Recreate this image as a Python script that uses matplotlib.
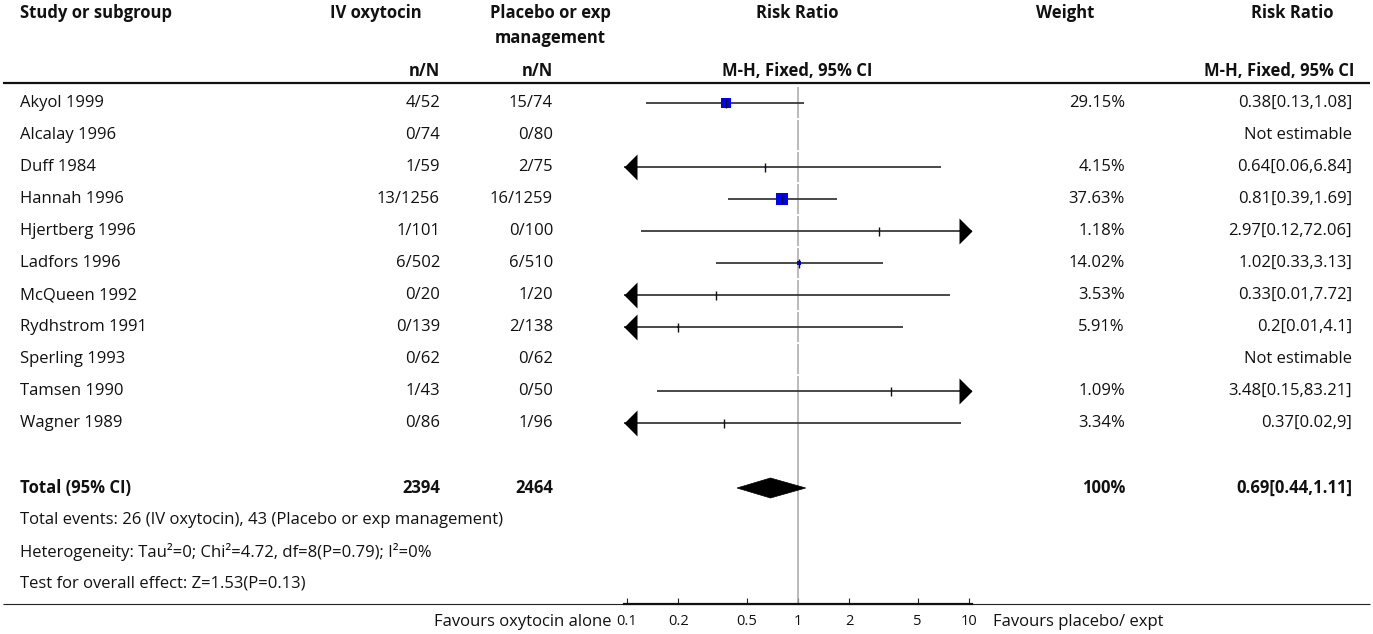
import matplotlib
matplotlib.use("Agg")
import matplotlib.pyplot as plt
from matplotlib.patches import Polygon
from matplotlib.path import Path
from matplotlib.ticker import FixedLocator, FixedFormatter, NullLocator

# ---------------- data ----------------
studies = ["Akyol 1999", "Alcalay 1996", "Duff 1984", "Hannah 1996", "Hjertberg 1996",
           "Ladfors 1996", "McQueen 1992", "Rydhstrom 1991", "Sperling 1993",
           "Tamsen 1990", "Wagner 1989"]
iv_events = [4, 0, 1, 13, 1, 6, 0, 0, 0, 1, 0]
iv_total = [52, 74, 59, 1256, 101, 502, 20, 139, 62, 43, 86]
pl_events = [15, 0, 2, 16, 0, 6, 1, 2, 0, 0, 1]
pl_total = [74, 80, 75, 1259, 100, 510, 20, 138, 62, 50, 96]
weights = [29.15, None, 4.15, 37.63, 1.18, 14.02, 3.53, 5.91, None, 1.09, 3.34]
rr = [0.38, None, 0.64, 0.81, 2.97, 1.02, 0.33, 0.2, None, 3.48, 0.37]
ci_lo = [0.13, None, 0.06, 0.39, 0.12, 0.33, 0.01, 0.01, None, 0.15, 0.02]
ci_hi = [1.08, None, 6.84, 1.69, 72.06, 3.13, 7.72, 4.1, None, 83.21, 9]

total_iv = 2394
total_pl = 2464
total_rr, total_lo, total_hi = 0.69, 0.44, 1.11
total_weight = "100%"
footer_lines = [
    "Total events: 26 (IV oxytocin), 43 (Placebo or exp management)",
    "Heterogeneity: Tau\u00b2=0; Chi\u00b2=4.72, df=8(P=0.79); I\u00b2=0%",
    "Test for overall effect: Z=1.53(P=0.13)",
]
tick_values = [0.1, 0.2, 0.5, 1, 2, 5, 10]
tick_labels = ["0.1", "0.2", "0.5", "1", "2", "5", "10"]
favours_left = "Favours oxytocin alone"
favours_right = "Favours placebo/ expt"

# ---------------- layout ----------------
W, H = 1373, 634
plt.rcParams["font.family"] = ["Open Sans", "DejaVu Sans"]
FS = 12.0
TXT = "#111111"

fig = plt.figure(figsize=(W / 100, H / 100), dpi=100)
bg = fig.add_axes([0, 0, 1, 1])
bg.set_xlim(0, W)
bg.set_ylim(H, 0)
bg.axis("off")

x_name = 20
x_iv = 440
x_pl = 553
x_w = 1125
x_rr = 1352
row0, row_step = 103, 32
y_total = 488
y_foot0 = 520
y_axis = 604

# header
hdr = dict(fontsize=FS, fontweight="bold", color=TXT, va="center")
bg.text(x_name, 13, "Study or subgroup", ha="left", **hdr)
bg.text(376, 13, "IV oxytocin", ha="center", **hdr)
bg.text(550, 13, "Placebo or exp", ha="center", **hdr)
bg.text(550, 38, "management", ha="center", **hdr)
bg.text(797, 13, "Risk Ratio", ha="center", **hdr)
bg.text(1065, 13, "Weight", ha="center", **hdr)
bg.text(1292, 13, "Risk Ratio", ha="center", **hdr)
bg.text(x_iv, 71, "n/N", ha="right", **hdr)
bg.text(x_pl, 71, "n/N", ha="right", **hdr)
bg.text(797, 71, "M-H, Fixed, 95% CI", ha="center", **hdr)
bg.text(1354, 71, "M-H, Fixed, 95% CI", ha="right", **hdr)
bg.plot([3, 1370], [83, 83], color="#111111", lw=1.6, solid_capstyle="butt")

# rows
reg = dict(fontsize=FS, color=TXT, va="center")
for i, name in enumerate(studies):
    y = row0 + row_step * i
    bg.text(x_name, y, name, ha="left", **reg)
    bg.text(x_iv, y, f"{iv_events[i]}/{iv_total[i]}", ha="right", **reg)
    bg.text(x_pl, y, f"{pl_events[i]}/{pl_total[i]}", ha="right", **reg)
    if rr[i] is None:
        bg.text(x_rr, y, "Not estimable", ha="right", **reg)
    else:
        bg.text(x_w, y, f"{weights[i]:.2f}%", ha="right", **reg)
        bg.text(x_rr, y, f"{rr[i]:g}[{ci_lo[i]:g},{ci_hi[i]:g}]", ha="right", **reg)

bold = dict(fontsize=FS, fontweight="bold", color=TXT, va="center")
bg.text(x_name, y_total, "Total (95% CI)", ha="left", **bold)
bg.text(x_iv, y_total, f"{total_iv}", ha="right", **bold)
bg.text(x_pl, y_total, f"{total_pl}", ha="right", **bold)
bg.text(x_w, y_total, total_weight, ha="right", **bold)
bg.text(x_rr, y_total, f"{total_rr:g}[{total_lo:g},{total_hi:g}]", ha="right", **bold)
for k, line in enumerate(footer_lines):
    bg.text(x_name, y_foot0 + row_step * k, line, ha="left", **reg)

bg.plot([3, 1370], [y_axis, y_axis], color="#222222", lw=0.8, solid_capstyle="butt")
bg.text(612, 622, favours_left, ha="right", **reg)
bg.text(993, 622, favours_right, ha="left", **reg)

# ---------------- forest axes ----------------
px_per_dec = 171.0
pad_px = 3.0
ax_left, ax_right = 627 - pad_px, 969 + pad_px
ax = fig.add_axes([ax_left / W, 0, (ax_right - ax_left) / W, 1])
ax.patch.set_alpha(0)
ax.set_xscale("log")
ax.set_xlim(10 ** (-1 - pad_px / px_per_dec), 10 ** (1 + pad_px / px_per_dec))
ax.set_ylim(H, 0)
for s in ["top", "left", "right"]:
    ax.spines[s].set_visible(False)
ax.spines["bottom"].set_position(("data", y_axis))
ax.spines["bottom"].set_linewidth(1.6)
ax.spines["bottom"].set_color("#111111")
ax.xaxis.set_major_locator(FixedLocator(tick_values))
ax.xaxis.set_major_formatter(FixedFormatter(tick_labels))
ax.xaxis.set_minor_locator(NullLocator())
ax.tick_params(axis="x", direction="in", length=4, width=0.8, color="#222222",
               labelsize=10.5, labelcolor=TXT, pad=7)
ax.tick_params(axis="y", left=False, labelleft=False)

xmin, xmax = ax.get_xlim()

# vertical line at 1, with small breaks between study rows
seg_top = 87
breaks = [row0 + row_step * (i + 0.5) for i in range(9)]
prev = seg_top
for b in breaks:
    ax.plot([1, 1], [prev, b - 1], color="#a8a8a8", lw=1.1, solid_capstyle="butt")
    prev = b + 1
ax.plot([1, 1], [prev, y_axis], color="#a8a8a8", lw=1.1, solid_capstyle="butt")

left_arrow = Path([(0, 0), (1, 1), (1, -1), (0, 0)], [1, 2, 2, 79])
right_arrow = Path([(0, 0), (-1, 1), (-1, -1), (0, 0)], [1, 2, 2, 79])
arrow_ms = 26 * 0.72

for i in range(len(studies)):
    if rr[i] is None:
        continue
    y = row0 + row_step * i
    lo = max(ci_lo[i], xmin)
    hi = min(ci_hi[i], xmax)
    ax.plot([lo, hi], [y, y], color="#3a3a3a", lw=1.3, solid_capstyle="butt", zorder=2)
    if ci_lo[i] < 0.1:
        ax.plot([xmin], [y], marker=left_arrow, ms=arrow_ms, color="black", mew=0, zorder=3)
    if ci_hi[i] > 10:
        ax.plot([xmax], [y], marker=right_arrow, ms=arrow_ms, color="black", mew=0, zorder=3)
    side_px = 0.345 * weights[i]
    ax.plot([rr[i]], [y], marker="s", ms=side_px * 0.72, color="#0000ff", mew=0, zorder=4)
    ax.plot([rr[i]], [y], marker="|", ms=9 * 0.72, color="#111111", mew=1.0, zorder=5)

diamond = Polygon([(total_lo, y_total), (total_rr, y_total - 10),
                   (total_hi, y_total), (total_rr, y_total + 10)],
                  closed=True, facecolor="black", edgecolor="black", lw=0.5, zorder=4)
ax.add_patch(diamond)

fig.savefig("out.png", dpi=100)
